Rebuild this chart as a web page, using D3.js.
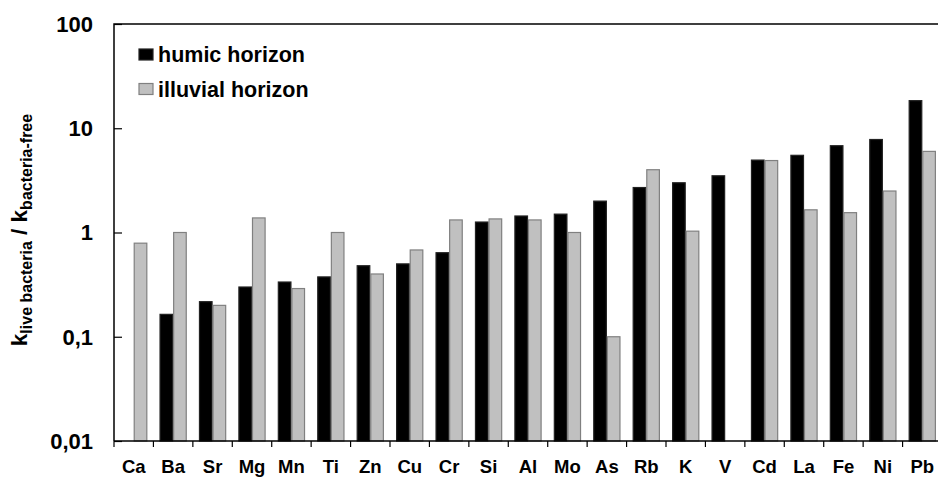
<!DOCTYPE html>
<html>
<head>
<meta charset="utf-8">
<script src="https://cdn.jsdelivr.net/npm/d3@7"></script>
<style>
  body { margin: 0; background: #fff; overflow: hidden; }
  svg text { font-family: "Liberation Sans", Arial, sans-serif; font-weight: bold; fill: #000; }
</style>
</head>
<body>
<svg id="chart" width="938" height="481"></svg>
<script>
// element order along the x axis
var elements = ["Ca", "Ba", "Sr", "Mg", "Mn", "Ti", "Zn", "Cu", "Cr", "Si", "Al",
    "Mo", "As", "Rb", "K", "V", "Cd", "La", "Fe", "Ni", "Pb"];
// ratio k(live bacteria) / k(bacteria-free), null = no bar
var humic = [null, 0.164, 0.217, 0.30, 0.335, 0.375, 0.48, 0.50, 0.64, 1.26, 1.44,
    1.5, 2.0, 2.7, 3.0, 3.5, 4.95, 5.5, 6.8, 7.8, 18.4];
var illuvial = [0.79, 1.0, 0.20, 1.38, 0.29, 1.0, 0.40, 0.68, 1.32, 1.35, 1.32,
    1.0, 0.1, 4.0, 1.03, null, 4.9, 1.65, 1.55, 2.5, 6.0];
var yTicks = [0.01, 0.1, 1, 10, 100];
var series = [
    { name: "humic horizon", values: humic, fill: "#000", stroke: "#222" },
    { name: "illuvial horizon", values: illuvial, fill: "#c0c0c0", stroke: "#808080" }
];

var svg = d3.select("svg#chart");
var plotLeft = 114, plotTop = 24, plotBottom = 441, plotRight = 942;

var x = d3.scaleBand()
    .domain(elements)
    .range([plotLeft, plotRight])
    .paddingInner(0.31)
    .paddingOuter(0.155);
var xs = d3.scaleBand()
    .domain(d3.range(series.length))
    .range([0, x.bandwidth()]);
var y = d3.scaleLog()
    .domain([0.01, 100])
    .range([plotBottom, plotTop]);

// bars
series.forEach(function(s, si) {
    svg.append("g")
        .selectAll("rect")
        .data(s.values.map(function(v, i) { return { el: elements[i], v: v }; })
            .filter(function(d) { return d.v != null; }))
        .enter().append("rect")
        .attr("x", function(d) { return x(d.el) + xs(si) + 0.5; })
        .attr("y", function(d) { return y(d.v); })
        .attr("width", xs.bandwidth() - 1)
        .attr("height", function(d) { return plotBottom - y(d.v); })
        .attr("fill", s.fill)
        .attr("stroke", s.stroke)
        .attr("stroke-width", 1.2);
});

// frame
svg.append("path")
    .attr("d", "M" + plotLeft + "," + plotBottom + "V" + plotTop + "H938")
    .attr("fill", "none")
    .attr("stroke", "#000")
    .attr("stroke-width", 1.5);

// y axis: inner ticks
var yAxis = svg.append("g")
    .attr("transform", "translate(" + plotLeft + ",0)")
    .call(d3.axisRight(y).tickValues(yTicks).tickSize(8).tickFormat(""));
yAxis.select(".domain").remove();
yAxis.selectAll("line").attr("stroke", "#000").attr("stroke-width", 1.2);

svg.append("g")
    .selectAll("text")
    .data(yTicks)
    .enter().append("text")
    .attr("x", 93)
    .attr("y", function(d) { return y(d); })
    .attr("dy", "0.36em")
    .attr("text-anchor", "end")
    .style("font-size", "22px")
    .text(function(d) { return String(d).replace(".", ","); });

// x axis: ticks between categories
var xAxis = svg.append("g")
    .attr("transform", "translate(0," + plotBottom + ")");
xAxis.append("line")
    .attr("x1", plotLeft).attr("x2", 938)
    .attr("stroke", "#000").attr("stroke-width", 1.5);
var step = x.step();
xAxis.selectAll("line.tick")
    .data(d3.range(elements.length + 1))
    .enter().append("line")
    .attr("class", "tick")
    .attr("x1", function(i) { return plotLeft + i * step; })
    .attr("x2", function(i) { return plotLeft + i * step; })
    .attr("y1", 0).attr("y2", 6)
    .attr("stroke", "#000").attr("stroke-width", 1.2);
xAxis.selectAll("text")
    .data(elements)
    .enter().append("text")
    .attr("x", function(d) { return x(d) + x.bandwidth() / 2; })
    .attr("y", 32)
    .attr("text-anchor", "middle")
    .style("font-size", "18.5px")
    .text(function(d) { return d; });

// y axis title
var title = svg.append("text")
    .attr("transform", "translate(27,230) rotate(-90)")
    .attr("text-anchor", "middle")
    .style("font-size", "22.5px");
title.append("tspan").text("k");
title.append("tspan").attr("dy", 5).style("font-size", "16px").text("live bacteria");
title.append("tspan").attr("dy", -5).text(" / k");
title.append("tspan").attr("dy", 5).style("font-size", "16px").text("bacteria-free");

// legend
var legend = svg.append("g")
    .selectAll("g")
    .data(series)
    .enter().append("g")
    .attr("transform", function(d, i) { return "translate(139," + (49 + i * 34.5) + ")"; });
legend.append("rect")
    .attr("width", 14).attr("height", 11)
    .attr("fill", function(d) { return d.fill; })
    .attr("stroke", function(d) { return d.stroke; })
    .attr("stroke-width", 1.2);
legend.append("text")
    .attr("x", 19)
    .attr("y", 5.5)
    .attr("dy", "0.36em")
    .style("font-size", "21.5px")
    .text(function(d) { return d.name; });
</script>
</body>
</html>
